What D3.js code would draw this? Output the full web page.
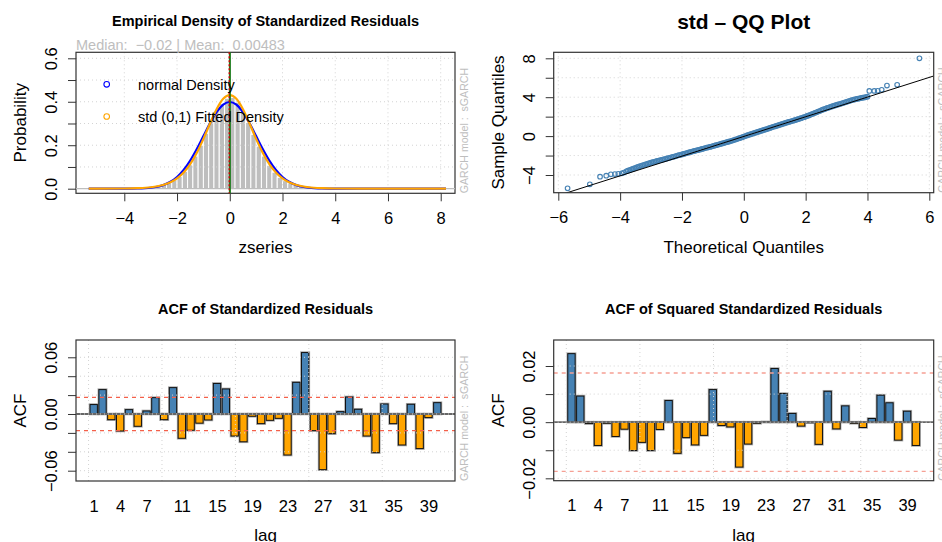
<!DOCTYPE html>
<html><head><meta charset="utf-8">
<script src="https://cdn.jsdelivr.net/npm/d3@7"></script>
<style>
body{margin:0;background:#fff}
svg{display:block}
text{font-family:"Liberation Sans",Arial,Helvetica,sans-serif}
</style>
</head><body>
<svg id="c" width="942" height="542"></svg>
<script>
// ---------------- DATA ----------------
// Panel 1: histogram of standardized residuals (bin mids, width 0.2)
const histMid = [-2.9,-2.7,-2.5,-2.3,-2.1,-1.9,-1.7,-1.5,-1.3,-1.1,-0.9,-0.7,-0.5,-0.3,-0.1,0.1,0.3,0.5,0.7,0.9,1.1,1.3,1.5,1.7,1.9,2.1,2.3,2.5,2.7,2.9,3.1,3.3,3.5];
const histDensity = [0.008,0.012,0.018,0.027,0.040,0.056,0.080,0.110,0.150,0.200,0.255,0.310,0.360,0.392,0.416,0.420,0.398,0.358,0.305,0.250,0.196,0.150,0.108,0.076,0.052,0.037,0.026,0.018,0.011,0.007,0.005,0.003,0.002];
const histBinWidth = 0.2;
// density curves
const densX = [-5.35,-5,-4,-3.5,-3,-2.75,-2.5,-2.25,-2,-1.75,-1.5,-1.25,-1,-0.75,-0.5,-0.25,0,0.25,0.5,0.75,1,1.25,1.5,1.75,2,2.25,2.5,2.75,3,3.5,4,5,8.2];
const normalDens = [0,0,0.0001,0.0009,0.0044,0.0091,0.0175,0.0317,0.054,0.0863,0.1295,0.1826,0.242,0.3011,0.3521,0.3867,0.3989,0.3867,0.3521,0.3011,0.242,0.1826,0.1295,0.0863,0.054,0.0317,0.0175,0.0091,0.0044,0.0009,0.0001,0,0];
const stdDens = [0.0001,0.0001,0.0009,0.0025,0.0067,0.0111,0.0182,0.0296,0.0475,0.0744,0.1130,0.1651,0.2292,0.2998,0.3659,0.4138,0.431,0.4138,0.3659,0.2998,0.2292,0.1651,0.1130,0.0744,0.0475,0.0296,0.0182,0.0111,0.0067,0.0025,0.0009,0.0001,0];
const zMedian = -0.02, zMean = 0.00483;
const p1XTicks = [-4,-2,0,2,4,6,8];
const p1YTicks = [0,0.1,0.2,0.3,0.4,0.5,0.6];
const p1YLabels = [0,0.2,0.4,0.6];

// Panel 2: QQ plot (points read along the band)
const qqTheo = [-5.70,-4.98,-4.65,-4.45,-4.30,-4.17,-4.06,-3.95,-3.88,-3.80,-3.70,-3.60,-3.50,-3.40,-3.30,-3.20,-3.10,-3.00,-2.90,-2.80,-2.70,-2.60,-2.50,-2.40,-2.30,-2.20,-2.10,-2.00,-1.90,-1.80,-1.70,-1.60,-1.50,-1.40,-1.30,-1.20,-1.10,-1.00,-0.90,-0.80,-0.70,-0.60,-0.50,-0.40,-0.30,-0.20,-0.10,0.00,0.10,0.20,0.30,0.40,0.50,0.60,0.70,0.80,0.90,1.00,1.10,1.20,1.30,1.40,1.50,1.60,1.70,1.80,1.90,2.00,2.10,2.20,2.30,2.40,2.50,2.60,2.70,2.80,2.90,3.00,3.10,3.20,3.30,3.40,3.50,3.60,3.70,3.80,3.90,4.00,4.06,4.22,4.33,4.46,4.63,4.96,5.68];
const qqSample = [-5.37,-4.96,-4.17,-4.07,-3.93,-3.90,-3.88,-3.83,-3.75,-3.62,-3.50,-3.38,-3.26,-3.14,-3.03,-2.93,-2.83,-2.73,-2.64,-2.56,-2.48,-2.40,-2.32,-2.23,-2.14,-2.05,-1.96,-1.88,-1.80,-1.71,-1.62,-1.53,-1.45,-1.37,-1.28,-1.19,-1.11,-1.03,-0.94,-0.85,-0.76,-0.67,-0.58,-0.48,-0.38,-0.28,-0.17,-0.05,0.07,0.17,0.28,0.38,0.48,0.58,0.68,0.79,0.90,1.00,1.10,1.20,1.30,1.40,1.50,1.59,1.69,1.79,1.90,2.01,2.13,2.26,2.39,2.52,2.65,2.77,2.89,3.00,3.10,3.20,3.30,3.40,3.50,3.60,3.70,3.78,3.85,3.92,3.98,4.05,4.64,4.65,4.66,4.76,5.20,5.27,8.00];
const qqTheoB = [-3.75,-3.65,-3.55,-3.45,-3.35,-3.25,-3.15,-3.05,-2.95,-2.85,-2.75,-2.65,-2.55,-2.45,-2.35,-2.25,-2.15,-2.05,-1.95,-1.85,-1.75,-1.65,-1.55,-1.45,-1.35,-1.25,-1.15,-1.05,-0.95,-0.85,-0.75,-0.65,-0.55,-0.45,-0.35,-0.25,-0.15,-0.05,0.05,0.15,0.25,0.35,0.45,0.55,0.65,0.75,0.85,0.95,1.05,1.15,1.25,1.35,1.45,1.55,1.65,1.75,1.85,1.95,2.05,2.15,2.25,2.35,2.45,2.55,2.65,2.75,2.85,2.95,3.05,3.15,3.25,3.35,3.45,3.55,3.65,3.75,3.85,3.95];
const qqSampleB = [-3.56,-3.44,-3.32,-3.20,-3.08,-2.98,-2.88,-2.78,-2.68,-2.60,-2.52,-2.44,-2.36,-2.27,-2.18,-2.10,-2.00,-1.92,-1.84,-1.75,-1.66,-1.57,-1.49,-1.41,-1.32,-1.23,-1.15,-1.07,-0.98,-0.89,-0.80,-0.71,-0.62,-0.53,-0.43,-0.33,-0.22,-0.11,0.01,0.12,0.22,0.33,0.43,0.53,0.63,0.73,0.84,0.95,1.05,1.15,1.25,1.35,1.45,1.55,1.64,1.74,1.84,1.95,2.07,2.19,2.32,2.45,2.58,2.71,2.83,2.94,3.05,3.15,3.25,3.35,3.45,3.55,3.65,3.74,3.82,3.88,3.95,4.02];
const qqLineX = [-6.149, 6.142];
const qqLineY = [-6.26, 6.18];
const p2XTicks = [-6,-4,-2,0,2,4,6];
const p2YTicks = [-4,-2,0,2,4,6,8];
const p2YLabels = [-4,0,4,8];

// Panels 3/4: ACF
const lags = [1,2,3,4,5,6,7,8,9,10,11,12,13,14,15,16,17,18,19,20,21,22,23,24,25,26,27,28,29,30,31,32,33,34,35,36,37,38,39,40];
const lagLabels = [1,4,7,11,15,19,23,27,31,35,39];
const acfResid = [0.010,0.0258,-0.006,-0.018,0.0046,-0.013,0.0032,0.0173,-0.006,0.0279,-0.0257,-0.0172,-0.0097,-0.0063,0.0323,0.0265,-0.0233,-0.0294,-0.0024,-0.0102,-0.0067,-0.0046,-0.0434,0.0335,0.065,-0.0176,-0.0589,-0.0208,0.0025,0.018,0.005,-0.0233,-0.0409,0.0106,-0.0102,-0.0328,0.0103,-0.0366,-0.0038,0.012];
const acfSq = [0.0244,0.0093,-0.0005,-0.0083,-0.0004,-0.0051,-0.0025,-0.0101,-0.0072,-0.0101,-0.0026,0.0077,-0.0111,-0.0055,-0.0081,-0.0047,0.0116,-0.0012,-0.0017,-0.0160,-0.0078,-0.0004,0.0001,0.0191,0.0102,0.0031,-0.0014,-0.0002,-0.0079,0.0110,-0.0024,0.0058,-0.0004,-0.0019,0.0013,0.0096,0.0069,-0.0064,0.0039,-0.0083];
const acfClim = 0.0175;
const acf1YTicks = [-0.06,-0.04,-0.02,0,0.02,0.04,0.06];
const acf1YLabels = [-0.06,0,0.06];
const acf2YTicks = [-0.02,-0.01,0,0.01,0.02];
const acf2YLabels = [-0.02,0,0.02];
const barGridUnits = [0,10,20,30,40];

// ---------------- DRAWING ----------------
const svg = d3.select("#c");
const TICK_FS = "16.5px", LAB_FS = "17px", TITLE_FS = "14.5px";
const GRID = "#d3d3d3";

function frame(L,R,T,B,xd,yd){
  return {L,R,T,B,
    x:d3.scaleLinear().domain(xd).range([L,R]),
    y:d3.scaleLinear().domain(yd).range([B,T])};
}
function grid(g,p,xs,ys){
  g.append("g").selectAll("line").data(xs).join("line")
    .attr("x1",d=>p.x(d)).attr("x2",d=>p.x(d)).attr("y1",p.T).attr("y2",p.B)
    .attr("stroke",GRID).attr("stroke-dasharray","1,3");
  g.append("g").selectAll("line").data(ys).join("line")
    .attr("y1",d=>p.y(d)).attr("y2",d=>p.y(d)).attr("x1",p.L).attr("x2",p.R)
    .attr("stroke",GRID).attr("stroke-dasharray","1,3");
}
function box(g,p){
  g.append("rect").attr("x",p.L).attr("y",p.T).attr("width",p.R-p.L).attr("height",p.B-p.T)
    .attr("fill","none").attr("stroke","#333").attr("stroke-width",1.2);
}
function has(arr,d){return arr.some(v=>Math.abs(v-d)<1e-9);}
function yAxis(g,p,ticks,labels,fmt){
  const a = g.append("g").attr("transform",`translate(${p.L},0)`)
    .call(d3.axisLeft(p.y).tickValues(ticks).tickSize(8).tickFormat(d=>has(labels,d)?fmt(d):""));
  a.attr("font-size",null).attr("font-family",null);
  a.select(".domain").remove();
  a.selectAll(".tick line").attr("stroke","#333");
  a.selectAll(".tick text").attr("x",0).attr("y",-19).attr("dy",0)
    .attr("text-anchor","middle").attr("transform","rotate(-90)")
    .attr("fill","#000").style("font-size",TICK_FS);
}
function xAxis(g,p,scale,ticks,fmt,size){
  const a = g.append("g").attr("transform",`translate(0,${p.B})`)
    .call(d3.axisBottom(scale).tickValues(ticks).tickSize(size).tickFormat(fmt));
  a.attr("font-size",null).attr("font-family",null);
  a.select(".domain").remove();
  a.selectAll(".tick line").attr("stroke","#333");
  a.selectAll(".tick text").attr("y",30.6).attr("dy",0).attr("fill","#000").style("font-size",TICK_FS);
}
function labels(g,p,title,tfs,tY,xl,yl){
  const cx=(p.L+p.R)/2, cy=(p.T+p.B)/2;
  g.append("text").attr("x",cx).attr("y",tY).attr("text-anchor","middle")
    .style("font-size",tfs).style("font-weight","bold").text(title);
  g.append("text").attr("x",cx).attr("y",p.B+60).attr("text-anchor","middle")
    .style("font-size",LAB_FS).text(xl);
  g.append("text").attr("transform",`translate(${p.L-50},${cy}) rotate(-90)`).attr("text-anchor","middle")
    .style("font-size",LAB_FS).text(yl);
  g.append("text").attr("transform",`translate(${p.R+12.5},${p.B}) rotate(-90)`).attr("text-anchor","start")
    .style("font-size","10.6px").style("white-space","pre").attr("fill","#bebebe").text("GARCH model :  sGARCH");
}
const fmtInt = d3.format("d");

// ===== Panel 1: Empirical density =====
{
  const p = frame(76,455,52.3,193.3,[-5.832,8.542],[-0.0212,0.6276]);
  const g = svg.append("g");
  g.append("g").selectAll("rect").data(histMid).join("rect")
    .attr("x",d=>p.x(d-histBinWidth/2)).attr("width",d=>p.x(d+histBinWidth/2)-p.x(d-histBinWidth/2))
    .attr("y",(d,i)=>p.y(histDensity[i])).attr("height",(d,i)=>p.y(0)-p.y(histDensity[i]))
    .attr("fill","#bebebe").attr("stroke","#fff").attr("stroke-width",1);
  grid(g,p,p1XTicks,p1YTicks.slice(1));
  box(g,p);
  yAxis(g,p,p1YTicks,p1YLabels,d3.format(".1f"));
  xAxis(g,p,p.x,p1XTicks,fmtInt,8);
  labels(g,p,"Empirical Density of Standardized Residuals",TITLE_FS,25.5,"zseries","Probability");
  g.append("text").attr("x",p.L).attr("y",50).style("font-size","14.5px").style("white-space","pre")
    .attr("fill","#bebebe").text("Median:  " + d3.format(".2f")(zMedian) + " | Mean:  " + String(zMean));
  g.append("line").attr("x1",p.L).attr("x2",p.R).attr("y1",p.y(0)).attr("y2",p.y(0)).attr("stroke","#bebebe").attr("stroke-width",1.2);
  const line = (ys)=>d3.line().x((d,i)=>p.x(d)).y((d,i)=>p.y(ys[i])).curve(d3.curveMonotoneX)(densX);
  g.append("path").attr("d",line(normalDens)).attr("fill","none").attr("stroke","#0000ff").attr("stroke-width",2.2);
  g.append("path").attr("d",line(stdDens)).attr("fill","none").attr("stroke","#ffa500").attr("stroke-width",2.2);
  g.append("line").attr("x1",p.x(zMean)).attr("x2",p.x(zMean)).attr("y1",p.T).attr("y2",p.B).attr("stroke","#1a7a1a").attr("stroke-width",2);
  g.append("line").attr("x1",p.x(zMedian)).attr("x2",p.x(zMedian)).attr("y1",p.T).attr("y2",p.B).attr("stroke","#d00000").attr("stroke-width",1.4).attr("stroke-dasharray","2,2");
  // legend
  const leg = [["normal Density","#0000ff",84.3,90.3],["std (0,1) Fitted Density","#ffa500",116.5,122.3]];
  leg.forEach(([t,c,cy,ty])=>{
    g.append("circle").attr("cx",106.7).attr("cy",cy).attr("r",2.8).attr("fill","none").attr("stroke",c).attr("stroke-width",1.1);
    g.append("text").attr("x",138).attr("y",ty).style("font-size","14.5px").text(t);
  });
}

// ===== Panel 2: QQ plot =====
{
  const p = frame(553.7,933.7,52.3,192.7,[-6.149,6.142],[-5.82,8.617]);
  const g = svg.append("g");
  svg.append("clipPath").attr("id","qqclip").append("rect").attr("x",p.L).attr("y",p.T).attr("width",p.R-p.L).attr("height",p.B-p.T);
  grid(g,p,p2XTicks,p2YTicks);
  const pts = g.append("g").attr("fill","none").attr("stroke","#4682b4").attr("stroke-width",1.15);
  pts.append("g").selectAll("circle").data(qqTheoB).join("circle")
    .attr("cx",d=>p.x(d)).attr("cy",(d,i)=>p.y(qqSampleB[i])).attr("r",2.3);
  pts.append("g").selectAll("circle").data(qqTheo).join("circle")
    .attr("cx",d=>p.x(d)).attr("cy",(d,i)=>p.y(qqSample[i])).attr("r",2.3);
  g.append("line").attr("clip-path","url(#qqclip)")
    .attr("x1",p.x(qqLineX[0])).attr("y1",p.y(qqLineY[0])).attr("x2",p.x(qqLineX[1])).attr("y2",p.y(qqLineY[1]))
    .attr("stroke","#000").attr("stroke-width",1);
  box(g,p);
  yAxis(g,p,p2YTicks,p2YLabels,fmtInt);
  xAxis(g,p,p.x,p2XTicks,fmtInt,8);
  labels(g,p,"std \u2013 QQ Plot","21px",29,"Theoretical Quantiles","Sample Quantiles");
}

// ===== Panels 3/4: ACF =====
function acfPanel(L,R,T,B,yd,vals,yt,yl,title,redCol){
  const p = frame(L,R,T,B,[-1.712,49.912],yd);
  const g = svg.append("g");
  const pos = d3.scaleLinear().domain([1,40]).range([p.x(0.7),p.x(0.7+1.2*39)]);
  const half = (p.x(1)-p.x(0))/2;
  const bars = g.append("g");
  bars.selectAll("rect.h").data(lags).join("rect").attr("class","h")
    .attr("x",d=>pos(d)-half).attr("width",2*half)
    .attr("y",(d,i)=>Math.min(p.y(vals[i]),p.y(0))).attr("height",(d,i)=>Math.abs(p.y(vals[i])-p.y(0)))
    .attr("fill","none").attr("stroke","#aaa").attr("stroke-width",2.6);
  bars.selectAll("rect.b").data(lags).join("rect").attr("class","b")
    .attr("x",d=>pos(d)-half).attr("width",2*half)
    .attr("y",(d,i)=>Math.min(p.y(vals[i]),p.y(0))).attr("height",(d,i)=>Math.abs(p.y(vals[i])-p.y(0)))
    .attr("fill",(d,i)=>vals[i]>=0?"#4682b4":"#ffa500").attr("stroke","#111").attr("stroke-width",1);
  [acfClim,-acfClim].forEach(c=>g.append("line").attr("x1",p.L).attr("x2",p.R).attr("y1",p.y(c)).attr("y2",p.y(c))
    .attr("stroke",redCol).attr("stroke-width",1.3).attr("stroke-dasharray","4,4"));
  g.append("line").attr("x1",p.L).attr("x2",p.R).attr("y1",p.y(0)).attr("y2",p.y(0)).attr("stroke","#666").attr("stroke-width",1.8);
  grid(g,p,barGridUnits,yt);
  box(g,p);
  yAxis(g,p,yt,yl,d3.format(".2f"));
  xAxis(g,p,pos,lagLabels,fmtInt,0);
  labels(g,p,title,TITLE_FS,313.5,"lag","ACF");
}
acfPanel(76,455,340,481,[-0.0709,0.0783],acfResid,acf1YTicks,acf1YLabels,"ACF of Standardized Residuals","#f4604a");
acfPanel(553.7,933.7,340,480.7,[-0.02085,0.02926],acfSq,acf2YTicks,acf2YLabels,"ACF of Squared Standardized Residuals","#f6a094");
</script>
</body></html>
